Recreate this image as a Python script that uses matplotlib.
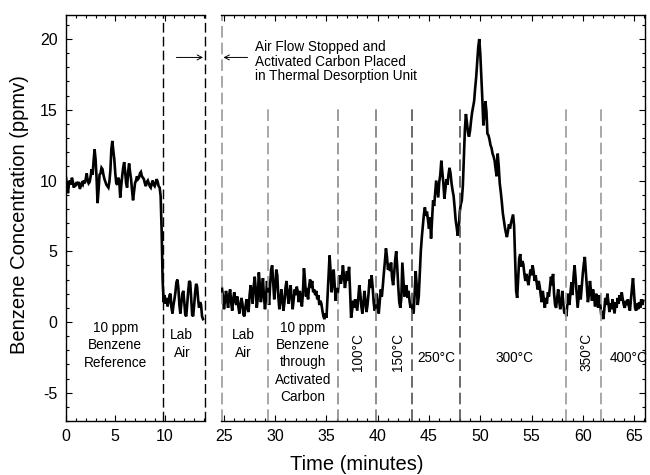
import numpy as np
import matplotlib
matplotlib.use("Agg")
import matplotlib.pyplot as plt
from matplotlib.ticker import MultipleLocator

plt.rcParams['font.family'] = ['Liberation Sans', 'DejaVu Sans']
plt.rcParams['axes.unicode_minus'] = False

# ---------------- data (ppmv, sampled every 0.1 min) ----------------
sample_step = 0.1
left_start = 0.0
left_values = [
    10.2, 9.6, 9.1, 9.8, 10.0, 9.7, 10.2, 9.9, 9.5, 9.8,
    9.6, 9.9, 9.7, 9.9, 9.4, 9.6, 9.8, 9.7, 10.0, 9.8,
    10.1, 10.5, 10.0, 9.8, 9.9, 10.3, 10.8, 10.4, 11.4, 12.2,
    11.5, 10.2, 8.4, 9.3, 10.4, 10.5, 10.9, 10.8, 10.4, 10.1,
    9.9, 9.7, 9.6, 9.5, 9.9, 10.7, 12.2, 12.8, 12.1, 11.5,
    10.5, 9.8, 9.7, 10.2, 10.0, 8.8, 9.6, 10.3, 10.9, 11.3,
    10.6, 9.8, 9.5, 10.6, 11.2, 10.6, 10.1, 9.3, 8.6, 9.2,
    9.8, 10.0, 10.3, 10.1, 10.2, 10.5, 10.6, 10.3, 10.2, 10.1,
    9.8, 9.6, 9.9, 10.0, 9.8, 9.6, 9.5, 9.8, 10.0, 9.7,
    9.6, 9.8, 10.1, 9.9, 9.6, 9.5, 8.9, 6.5, 3.0, 1.4,
    1.9, 1.3, 1.7, 1.1, 1.4, 1.9, 2.0, 1.0, 0.6, 1.2,
    1.6, 2.1, 2.8, 3.0, 2.4, 1.2, 0.6, 1.3, 2.0, 2.2,
    1.4, 0.5, 0.4, 1.3, 2.2, 2.9, 2.8, 1.6, 0.5, 0.4,
    1.2, 2.1, 2.7, 2.5, 1.6, 1.0, 1.4, 1.2, 0.4, 0.2,
]
right_start = 24.8
right_values = [
    2.4, 1.8,
    0.9, 1.5, 2.2, 1.6, 1.0, 1.9, 2.3, 1.4, 0.8, 1.6,
    2.1, 1.5, 1.2, 1.8, 1.1, 0.6, 1.2, 1.7, 1.3, 0.5,
    0.4, 1.1, 1.6, 1.0, 0.7, 1.9, 2.6, 2.0, 1.3, 2.5,
    3.2, 2.3, 1.0, 1.7, 3.5, 2.6, 1.4, 2.2, 3.1, 1.8,
    0.9, 1.7, 2.9, 2.0, 1.2, 2.6, 3.7, 4.0, 2.8, 1.6,
    2.4, 3.7, 3.3, 1.8, 0.9, 1.5, 2.3, 1.6, 0.8, 1.4,
    2.4, 2.9, 2.0, 1.3, 2.1, 2.6, 1.7, 0.9, 1.6, 2.3,
    1.9, 2.5, 2.1, 1.4, 2.2, 1.7, 1.1, 2.0, 3.8, 3.0,
    1.8, 2.4, 1.6, 2.5, 3.0, 2.4, 2.9, 2.1, 2.3, 1.9,
    2.2, 1.6, 1.9, 1.2, 1.5, 1.3, 0.8, 0.4, 0.2, 0.6,
    0.3, 1.8, 3.4, 4.7, 3.6, 2.1, 2.8, 3.7, 2.6, 1.5,
    2.4, 2.0, 2.9, 3.3, 2.7, 3.1, 4.0, 3.3, 2.4, 3.0,
    3.6, 2.9, 3.9, 2.2, 0.3, 0.8, 1.5, 1.0, 1.6, 1.2,
    0.8, 1.7, 2.6, 2.0, 1.1, 0.6, 1.3, 2.2, 1.5, 0.7,
    1.2, 2.0, 3.0, 2.4, 3.3, 2.5, 1.4, 0.8, 1.2, 2.0,
    1.0, 0.6, 1.5, 2.3, 1.8, 2.6, 3.5, 4.3, 5.2, 4.6,
    3.7, 4.1, 3.6, 4.2, 3.1, 2.6, 3.4, 4.4, 5.0, 3.9,
    2.5, 1.4, 1.0, 1.7, 4.2, 3.0, 1.8, 2.3, 2.6, 1.7,
    2.2, 1.5, 1.0, 1.3, 0.8, 0.6, 2.0, 3.6, 2.6, 1.2,
    1.8, 3.4, 5.0, 6.0, 6.8, 7.6, 8.1, 7.5, 7.8, 7.2,
    6.6, 7.4, 5.9, 7.3, 8.6, 8.2, 9.1, 10.0, 9.4, 8.8,
    9.9, 10.4, 11.4, 10.6, 9.8, 8.7, 9.4, 10.1, 9.7, 10.4,
    10.9, 10.5, 9.8, 9.3, 8.9, 8.1, 7.2, 6.7, 6.1, 6.6,
    7.8, 8.3, 8.6, 9.6, 11.5, 13.6, 14.7, 14.1, 13.4, 13.1,
    13.5, 14.2, 14.8, 15.2, 15.6, 16.5, 17.3, 18.4, 19.4, 20.0,
    19.0, 17.4, 15.8, 13.9, 14.6, 15.6, 14.9, 13.3, 13.2, 12.9,
    12.5, 12.3, 11.9, 11.7, 11.4, 10.8, 10.3, 11.9, 11.0, 9.8,
    9.2, 8.5, 7.7, 7.2, 6.7, 6.3, 6.0, 6.4, 6.9, 6.6,
    7.0, 7.3, 7.6, 6.8, 4.5, 2.2, 1.7, 3.1, 4.5, 4.8,
    3.9, 4.3, 4.1, 3.4, 2.9, 3.4, 3.0, 2.6, 3.2, 3.7,
    3.3, 4.0, 3.6, 2.9, 3.3, 2.8, 2.3, 2.9, 2.5, 1.9,
    1.4, 2.2, 1.6, 1.0, 1.7, 1.3, 2.1, 1.8, 2.5, 3.2,
    2.6, 3.4, 2.0, 1.2, 1.0, 1.7, 2.3, 1.5, 0.9, 1.4,
    2.2, 1.3, 0.6, 0.8, 0.4, 1.3, 2.0, 1.2, 2.1, 2.8,
    1.9, 3.2, 4.0, 3.1, 2.0, 1.0, 1.8, 2.6, 1.6, 2.5,
    3.4, 4.1, 4.6, 3.5, 2.5, 1.4, 1.9, 2.9, 2.2, 1.5,
    2.3, 1.8, 1.1, 2.0, 1.6, 1.0, 1.9, 1.3, 0.5, 0.6,
    0.2, 0.9, 1.7, 1.2, 2.0, 1.4, 0.7, 1.3, 0.9, 1.6,
    1.1, 0.6, 1.4, 1.0, 1.7, 1.3, 1.9, 1.5, 2.1, 1.6,
    1.2, 1.0, 1.5, 1.2, 1.6, 1.1, 0.8, 1.6, 2.4, 3.1,
    2.0, 1.0, 0.8, 1.3, 0.9, 1.4, 1.0, 1.6, 1.2, 1.5,
]

# event / phase boundaries (minutes)
left_xlim = (0.0, 14.1)
right_xlim = (24.68, 66.07)
ylims = (-7.0, 21.7)
left_event_lines = [9.8, 14.1]
right_event_line = 24.8
phase_lines = [29.3, 36.1, 39.85, 43.3, 48.0, 58.4, 61.8]
phase_colors = ['#9a9a9a', '#8a8a8a', '#7a7a7a', '#505050', '#505050', '#9a9a9a', '#9a9a9a']
phase_top = 15.1

left_labels = [("10 ppm\nBenzene\nReference", 5.0, -1.65, 0),
               ("Lab\nAir", 11.75, -1.55, 0)]
right_labels = [("Lab\nAir", 26.85, -1.55, 0),
                ("10 ppm\nBenzene\nthrough\nActivated\nCarbon", 32.7, -2.85, 0),
                ("100°C", 38.1, -2.15, 90),
                ("150°C", 42.0, -2.15, 90),
                ("250°C", 45.7, -2.55, 0),
                ("300°C", 53.3, -2.55, 0),
                ("350°C", 60.4, -2.15, 90),
                ("400°C", 64.5, -2.55, 0)]
note_text = "Air Flow Stopped and\nActivated Carbon Placed\nin Thermal Desorption Unit"

# ---------------- figure ----------------
W, H = 650, 475
fig = plt.figure(figsize=(6.5, 4.75), dpi=100)
bottom = 1 - 421 / H
height = (421 - 15) / H
axL = fig.add_axes([66 / W, bottom, (205 - 66) / W, height])
axR = fig.add_axes([220.7 / W, bottom, (645 - 220.7) / W, height])

tL = left_start + sample_step * np.arange(len(left_values))
tR = right_start + sample_step * np.arange(len(right_values))
axL.plot(tL, left_values, color='black', lw=1.9, solid_joinstyle='miter')
axR.plot(tR, right_values, color='black', lw=1.9, solid_joinstyle='miter')

dash = (0, (7, 3))
for x in left_event_lines:
    axL.axvline(x, color='black', lw=1.0, ls=dash, clip_on=False)
axR.axvline(right_event_line, color='#9a9a9a', lw=1.2, ls=dash, clip_on=False)
for x, c in zip(phase_lines, phase_colors):
    axR.vlines(x, ylims[0], phase_top, color=c, lw=1.2, ls=dash)

for ax, xl in ((axL, left_xlim), (axR, right_xlim)):
    ax.set_xlim(*xl)
    ax.set_ylim(*ylims)
    ax.xaxis.set_major_locator(MultipleLocator(5))
    ax.xaxis.set_minor_locator(MultipleLocator(1))
    ax.yaxis.set_major_locator(MultipleLocator(5))
    ax.yaxis.set_minor_locator(MultipleLocator(1))
    ax.tick_params(which='both', direction='in', top=True, width=0.8,
                   labelsize=11.5, pad=6)
    ax.tick_params(which='major', length=4)
    ax.tick_params(which='minor', length=2)
    for s in ax.spines.values():
        s.set_linewidth(1.0)

axL.spines['right'].set_visible(False)
axL.tick_params(which='both', right=False)
axR.spines['left'].set_visible(False)
axR.tick_params(which='both', left=False, labelleft=False, right=True)

for txt, x, y, rot in left_labels:
    axL.text(x, y, txt, ha='center', va='center', fontsize=9.8, rotation=rot,
             linespacing=1.3)
for txt, x, y, rot in right_labels:
    axR.text(x, y, txt, ha='center', va='center', fontsize=9.8, rotation=rot,
             linespacing=1.3)

axR.text(28.0, 18.4, note_text, ha='left', va='center', fontsize=9.8,
         linespacing=1.05)
arrow = dict(arrowstyle='->,head_length=0.35,head_width=0.18', lw=0.7,
             color='black', shrinkA=0, shrinkB=0)
axL.annotate('', xy=(13.9, 18.7), xytext=(11.2, 18.7), arrowprops=arrow)
axR.annotate('', xy=(24.95, 18.7), xytext=(27.3, 18.7), arrowprops=arrow)

fig.text(20 / W, 0.548, "Benzene Concentration (ppmv)", rotation=90,
         ha='center', va='center', fontsize=14.5)
fig.text(357 / W, 1 - 464 / H, "Time (minutes)", ha='center', va='center',
         fontsize=14.5)

fig.savefig("out.png", dpi=100)
